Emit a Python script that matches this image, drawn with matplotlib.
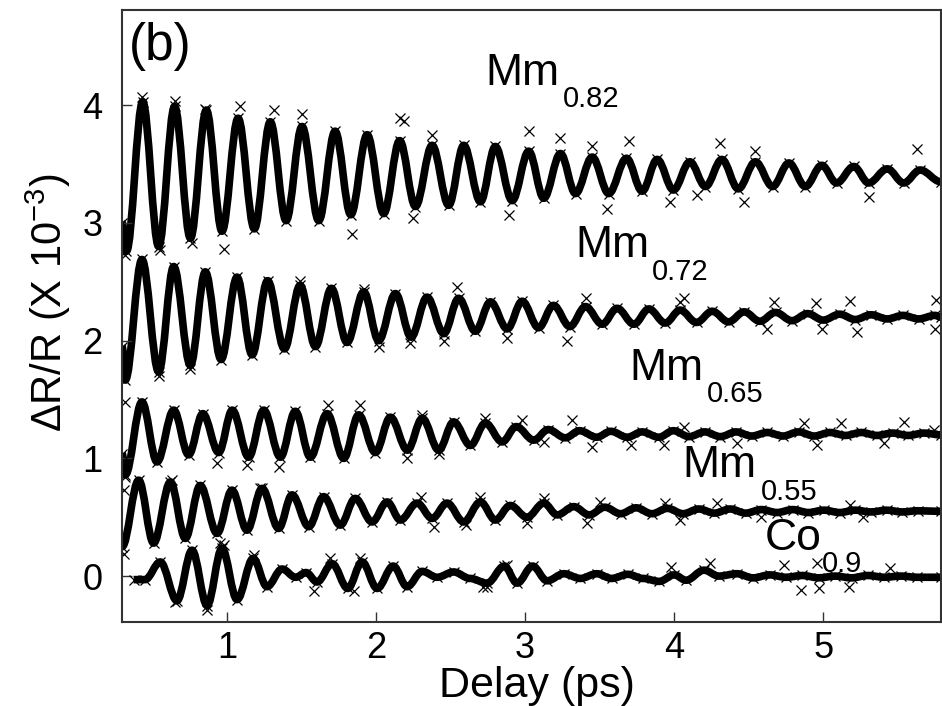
import numpy as np
import matplotlib
matplotlib.use('Agg')
import matplotlib.pyplot as plt
from matplotlib.path import Path
from matplotlib.patches import PathPatch

plt.rcParams['font.family'] = ['Liberation Sans', 'DejaVu Sans']
plt.rcParams['mathtext.fontset'] = 'custom'
plt.rcParams['mathtext.rm'] = 'Liberation Sans'
plt.rcParams['mathtext.it'] = 'Liberation Sans:italic'

# fit curves: turning points (delay in ps, dR/R x 1e-3)
t_mm82 = [0.296, 0.325, 0.434, 0.541, 0.648, 0.754, 0.861, 0.966, 1.074, 1.183, 1.290, 1.396,
          1.503, 1.615, 1.725, 1.830, 1.940, 2.051, 2.158, 2.264, 2.376, 2.487, 2.588, 2.700,
          2.800, 2.913, 3.024, 3.125, 3.237, 3.338, 3.450, 3.561, 3.680, 3.785, 3.886, 3.995,
          4.105, 4.210, 4.320, 4.430, 4.545, 4.660, 4.770, 4.880, 4.990, 5.090, 5.205, 5.305,
          5.430, 5.540, 5.650, 5.790]
y_mm82 = [3.00, 2.76, 4.03, 2.80, 3.99, 2.87, 3.96, 2.93, 3.89, 2.95, 3.86, 3.02,
          3.82, 3.02, 3.78, 3.07, 3.75, 3.08, 3.70, 3.14, 3.66, 3.15, 3.66, 3.18,
          3.65, 3.19, 3.61, 3.21, 3.59, 3.25, 3.56, 3.25, 3.55, 3.27, 3.54, 3.28,
          3.52, 3.31, 3.54, 3.29, 3.52, 3.31, 3.51, 3.31, 3.49, 3.34, 3.48, 3.34,
          3.46, 3.34, 3.45, 3.35]

t_mm72 = [0.296, 0.317, 0.429, 0.541, 0.642, 0.754, 0.854, 0.960, 1.067, 1.168, 1.272, 1.385,
          1.490, 1.593, 1.700, 1.805, 1.917, 2.017, 2.130, 2.235, 2.342, 2.454, 2.554, 2.666,
          2.767, 2.880, 2.980, 3.090, 3.190, 3.300, 3.405, 3.517, 3.617, 3.730, 3.830, 3.940,
          4.040, 4.150, 4.255, 4.365, 4.470, 4.575, 4.680, 4.790, 4.895, 5.000, 5.110, 5.215,
          5.320, 5.430, 5.535, 5.640, 5.750, 5.790]
y_mm72 = [1.95, 1.665, 2.69, 1.735, 2.63, 1.79, 2.585, 1.84, 2.54, 1.88, 2.51, 1.93,
          2.47, 1.95, 2.445, 1.985, 2.415, 2.00, 2.40, 2.03, 2.37, 2.06, 2.36, 2.08,
          2.33, 2.10, 2.335, 2.11, 2.30, 2.12, 2.29, 2.14, 2.275, 2.14, 2.27, 2.15,
          2.26, 2.155, 2.25, 2.16, 2.245, 2.165, 2.24, 2.17, 2.23, 2.175, 2.225, 2.18,
          2.22, 2.185, 2.215, 2.185, 2.215, 2.20]

t_mm65 = [0.296, 0.317, 0.429, 0.530, 0.642, 0.742, 0.837, 0.944, 1.035, 1.145, 1.246, 1.358,
          1.458, 1.559, 1.671, 1.783, 1.883, 1.995, 2.096, 2.210, 2.310, 2.420, 2.520, 2.633,
          2.733, 2.846, 2.940, 3.058, 3.155, 3.270, 3.365, 3.480, 3.575, 3.685, 3.785, 3.897,
          3.995, 4.100, 4.205, 4.310, 4.415, 4.520, 4.625, 4.730, 4.835, 4.940, 5.045, 5.150,
          5.255, 5.360, 5.465, 5.570, 5.675, 5.790]
y_mm65 = [1.04, 0.86, 1.48, 0.97, 1.41, 1.03, 1.38, 1.05, 1.41, 1.01, 1.41, 1.01,
          1.40, 1.01, 1.38, 1.00, 1.37, 1.05, 1.35, 1.07, 1.34, 1.07, 1.31, 1.11,
          1.30, 1.14, 1.27, 1.155, 1.245, 1.175, 1.235, 1.18, 1.23, 1.18, 1.225, 1.18,
          1.235, 1.185, 1.225, 1.185, 1.225, 1.19, 1.22, 1.19, 1.225, 1.19, 1.22, 1.195,
          1.22, 1.195, 1.215, 1.195, 1.215, 1.20]

t_mm55 = [0.296, 0.407, 0.507, 0.620, 0.720, 0.820, 0.933, 1.033, 1.134, 1.235, 1.346, 1.436,
          1.548, 1.648, 1.760, 1.860, 1.973, 2.074, 2.163, 2.275, 2.376, 2.476, 2.588, 2.700,
          2.800, 2.900, 3.013, 3.125, 3.215, 3.326, 3.430, 3.535, 3.640, 3.745, 3.850, 3.955,
          4.060, 4.165, 4.270, 4.375, 4.480, 4.585, 4.690, 4.795, 4.900, 5.005, 5.110, 5.215,
          5.320, 5.425, 5.530, 5.635, 5.790]
y_mm55 = [0.25, 0.815, 0.28, 0.80, 0.32, 0.77, 0.363, 0.73, 0.39, 0.745, 0.405, 0.69,
          0.42, 0.675, 0.433, 0.66, 0.46, 0.63, 0.476, 0.62, 0.49, 0.62, 0.46, 0.63,
          0.476, 0.60, 0.50, 0.62, 0.52, 0.59, 0.52, 0.585, 0.53, 0.58, 0.53, 0.575,
          0.53, 0.57, 0.535, 0.57, 0.535, 0.565, 0.54, 0.565, 0.54, 0.56, 0.54, 0.56,
          0.545, 0.56, 0.545, 0.555, 0.55]

t_co9 = [0.373, 0.45, 0.552, 0.664, 0.765, 0.866, 0.966, 1.067, 1.175, 1.268, 1.369, 1.46,
         1.53, 1.604, 1.705, 1.81, 1.906, 2.007, 2.115, 2.208, 2.309, 2.41, 2.52, 2.63,
         2.745, 2.86, 2.946, 3.05, 3.147, 3.26, 3.37, 3.48, 3.58, 3.69, 3.79, 3.90,
         4.00, 4.08, 4.20, 4.30, 4.42, 4.53, 4.64, 4.75, 4.86, 4.97, 5.08, 5.19,
         5.30, 5.41, 5.52, 5.63, 5.79]
y_co9 = [-0.03, -0.03, 0.12, -0.21, 0.22, -0.25, 0.235, -0.20, 0.15, -0.09, 0.06, -0.01,
         0.03, -0.05, 0.105, -0.105, 0.12, -0.105, 0.085, -0.09, 0.04, -0.01, 0.035, -0.02,
         -0.06, 0.085, -0.06, 0.085, -0.04, 0.02, -0.02, 0.02, -0.02, 0.015, -0.02, -0.045,
         0.01, -0.035, 0.05, 0.0, 0.02, -0.015, 0.01, -0.01, 0.005, -0.015, 0.0, -0.015,
         0.005, -0.01, 0.0, -0.01, -0.01]

# measured points that stand off the fit lines
tx_mm82 = [0.43, 0.653, 0.854, 1.089, 1.313, 1.503, 2.163, 1.839, 0.977, 0.317, 0.55, 0.765,
           2.185, 2.376, 3.024, 3.237, 3.45, 3.695, 2.89, 2.25, 3.55, 3.975, 4.31, 4.545,
           5.63, 4.467, 5.306, 4.155]
ty_mm82 = [4.07, 4.04, 3.97, 3.99, 3.96, 3.93, 3.89, 2.91, 2.78, 2.73, 2.77, 2.83,
           3.87, 3.75, 3.78, 3.72, 3.65, 3.70, 3.07, 3.04, 3.12, 3.18, 3.68, 3.61,
           3.63, 3.18, 3.22, 3.24]
tx_mm72 = [1.49, 1.917, 2.017, 2.544, 3.405, 2.23, 3.28, 2.454, 2.88, 4.04, 4.67, 4.95,
           5.18, 5.225, 4.99, 4.62, 5.75, 5.76, 4.065, 0.541, 0.754]
ty_mm72 = [2.51, 2.44, 1.95, 2.46, 2.36, 1.98, 2.00, 2.00, 2.02, 2.33, 2.33, 2.32,
           2.34, 2.07, 2.10, 2.10, 2.10, 2.345, 2.36, 1.70, 1.76]
tx_mm65 = [0.317, 0.317, 0.933, 1.134, 1.346, 1.68, 1.895, 2.31, 2.733, 2.98, 3.315, 2.21,
           2.42, 3.45, 3.71, 3.93, 3.125, 4.065, 4.87, 5.116, 5.54, 4.42, 4.96, 5.41, 5.74]
ty_mm65 = [1.48, 0.84, 0.96, 0.94, 0.93, 1.45, 1.45, 1.37, 1.34, 1.325, 1.325, 1.00,
           1.04, 1.10, 1.11, 1.11, 1.14, 1.27, 1.30, 1.30, 1.31, 1.13, 1.11, 1.13, 1.24]
tx_mm55 = [0.306, 0.306, 0.63, 0.955, 1.223, 2.30, 2.70, 3.125, 3.50, 3.94, 2.387, 2.60,
           3.013, 3.416, 4.04, 4.29, 5.18, 4.58, 5.27]
ty_mm55 = [0.73, 0.19, 0.815, 0.28, 0.745, 0.67, 0.67, 0.66, 0.63, 0.62, 0.42, 0.43,
           0.45, 0.45, 0.476, 0.62, 0.60, 0.50, 0.50]
tx_co9 = [0.653, 0.866, 0.977, 1.178, 1.58, 1.85, 1.895, 1.69, 2.745, 2.88, 4.24, 4.85,
          4.97, 5.17, 4.74, 5.45, 3.976, 4.96, 2.72]
ty_co9 = [-0.22, -0.29, 0.26, 0.18, -0.13, -0.13, 0.15, 0.15, -0.09, 0.09, 0.108, -0.12,
          -0.105, -0.09, 0.093, 0.065, 0.08, 0.108, -0.09]

fits = [(t_mm82, y_mm82), (t_mm72, y_mm72), (t_mm65, y_mm65), (t_mm55, y_mm55), (t_co9, y_co9)]
points = [(tx_mm82, ty_mm82), (tx_mm72, ty_mm72), (tx_mm65, ty_mm65), (tx_mm55, ty_mm55), (tx_co9, ty_co9)]

# label text, subscript, anchor of main text and of subscript (data coords)
labels = [('Mm', '0.82', (2.73, 4.17), (3.25, 3.985)),
          ('Mm', '0.72', (3.34, 2.71), (3.85, 2.515)),
          ('Mm', '0.65', (3.70, 1.665), (4.22, 1.478)),
          ('Mm', '0.55', (4.055, 0.841), (4.58, 0.646)),
          ('Co', '0.9', (4.61, 0.22), (4.99, 0.034))]


def smooth_path(t, y, k=0.36):
    # bezier segments with flat tangents at each turning point
    verts = [(t[0], y[0])]
    codes = [Path.MOVETO]
    for i in range(len(t) - 1):
        dt = t[i + 1] - t[i]
        verts += [(t[i] + k * dt, y[i]), (t[i + 1] - k * dt, y[i + 1]), (t[i + 1], y[i + 1])]
        codes += [Path.CURVE4] * 3
    return Path(verts, codes)


fig = plt.figure(figsize=(9.42, 7.06), dpi=100)
ax = fig.add_axes([0.1295, 0.119, 0.8694, 0.8669])

for (tx, ty) in points:
    ax.plot(tx, ty, 'x', color='black', markersize=7, markeredgewidth=0.9)
for (t, y) in fits:
    ax.add_patch(PathPatch(smooth_path(t, y), facecolor='none', edgecolor='black',
                           linewidth=5.5, joinstyle='round', capstyle='butt'))
    ax.plot(t, y, 'x', color='black', markersize=7, markeredgewidth=0.9)

for main, sub, p_main, p_sub in labels:
    ax.text(p_main[0], p_main[1], main, fontsize=32, ha='left', va='baseline')
    ax.text(p_sub[0], p_sub[1], sub, fontsize=21, ha='left', va='baseline')

ax.text(0.008, 0.918, '(b)', fontsize=37, transform=ax.transAxes, ha='left', va='baseline')

ax.set_xlim(0.295, 5.79)
ax.set_ylim(-0.39, 4.81)
ax.set_xticks([1, 2, 3, 4, 5])
ax.set_yticks([0, 1, 2, 3, 4])

for s in ax.spines.values():
    s.set_color('#333333')
    s.set_linewidth(1.5)

ax.tick_params(axis='both', direction='in', length=7, width=1.0, color='#333333', labelsize=26)
ax.tick_params(axis='x', pad=6.3)
ax.tick_params(axis='y', pad=14)

ax.set_xlabel('Delay (ps)', fontsize=31, va='baseline')
ax.xaxis.set_label_coords(0.507, -0.1225)
ax.set_ylabel('ΔR/R (X 10$^{-3}$)', fontsize=30, va='baseline')
ax.yaxis.set_label_coords(-0.073, 0.522)

plt.savefig('out.png', dpi=100)
